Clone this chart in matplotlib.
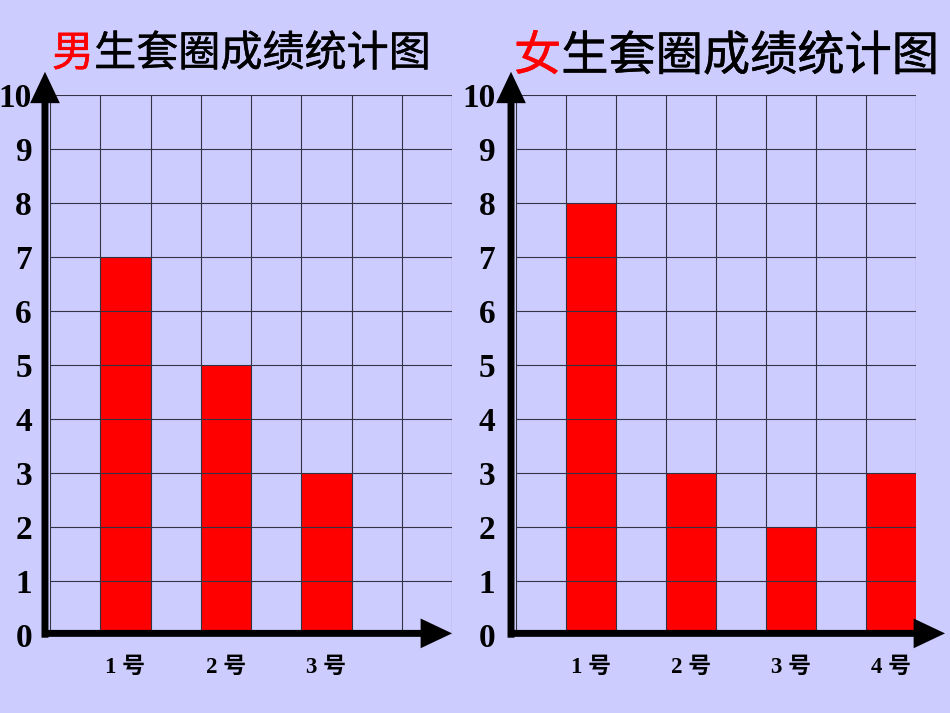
import matplotlib
matplotlib.use("Agg")
import matplotlib.pyplot as plt
import matplotlib.patheffects as pe

# ---- data ----
boys_title_first = "男"
boys_title_rest = "生套圈成绩统计图"
girls_title_first = "女"
girls_title_rest = "生套圈成绩统计图"
boys_categories = ["1 号", "2 号", "3 号"]
boys_values = [7, 5, 3]
girls_categories = ["1 号", "2 号", "3 号", "4 号"]
girls_values = [8, 3, 2, 3]
y_ticks = list(range(0, 11))
y_tick_labels = [str(v) for v in y_ticks]

BG = "#CCCCFF"
BAR = "#FF0000"
GRID = "#333344"
N_COLS = 8

W, H = 950, 713
fig = plt.figure(figsize=(W / 100, H / 100), dpi=100, facecolor=BG)

num_font = dict(family=["Liberation Serif", "Noto Sans CJK SC"], weight="bold")


def px_axes(left, right, bottom, top):
    return fig.add_axes([left / W, (H - bottom) / H, (right - left) / W, (bottom - top) / H])


def panel(ax, cats, vals, ytick_pad, arrow_x_end):
    ax.set_facecolor(BG)
    ax.set_xlim(0, N_COLS)
    ax.set_ylim(0, 10)
    xs = [2 * i + 1 for i in range(len(vals))]
    ax.bar(xs, vals, width=1, align="edge", color=BAR, edgecolor="none", zorder=1)
    ax.hlines(y_ticks, 0, N_COLS, colors=GRID, lw=0.8, zorder=2)
    ax.vlines(range(N_COLS + 1), 0, 10, colors=GRID, lw=0.8, zorder=2)
    for s in ax.spines.values():
        s.set_visible(False)
    ax.set_yticks(y_ticks)
    ax.set_yticklabels(y_tick_labels, fontsize=24, **num_font)
    ax.set_xticks([x + 0.5 for x in xs])
    ax.set_xticklabels(cats, fontsize=16.5, **num_font)
    ax.tick_params(axis="y", length=0, pad=ytick_pad)
    ax.tick_params(axis="x", length=0, pad=16)
    ap = dict(arrowstyle="-|>,head_length=0.95,head_width=0.45", lw=5, color="black",
              mutation_scale=15, shrinkA=0, shrinkB=0, joinstyle="miter", capstyle="butt")
    # y axis arrow
    ax.annotate("", xy=(-0.1, 10.43), xytext=(-0.1, -0.05), arrowprops=ap,
                annotation_clip=False, zorder=5)
    # x axis arrow
    ax.annotate("", xy=(arrow_x_end, 0.03), xytext=(-0.16, 0.03), arrowprops=ap,
                annotation_clip=False, zorder=5)


ax1 = px_axes(50, 452, 635, 95)
panel(ax1, boys_categories, boys_values, 13, 8.0)
ax2 = px_axes(516, 916, 635, 95)
panel(ax2, girls_categories, girls_values, 15, 8.58)


def title(x_px, y_px, first, rest, size):
    t = fig.text(x_px / W, (H - y_px) / H, first, color="red", fontsize=size,
                 family=["Noto Sans CJK SC"], ha="left", va="center",
                 path_effects=[pe.Stroke(linewidth=0.35, foreground="red"), pe.Normal()])
    fig.canvas.draw()
    ax1.annotate(rest, xy=(1, 0), xycoords=t, va="bottom", ha="left", color="black",
                 fontsize=size, family=["Noto Sans CJK SC"], annotation_clip=False,
                 path_effects=[pe.Stroke(linewidth=0.35, foreground="black"), pe.Normal()])


title(52, 54, boys_title_first, boys_title_rest, 30.3)
title(514, 57, girls_title_first, girls_title_rest, 34)

fig.savefig("out.png", dpi=100, facecolor=BG)
